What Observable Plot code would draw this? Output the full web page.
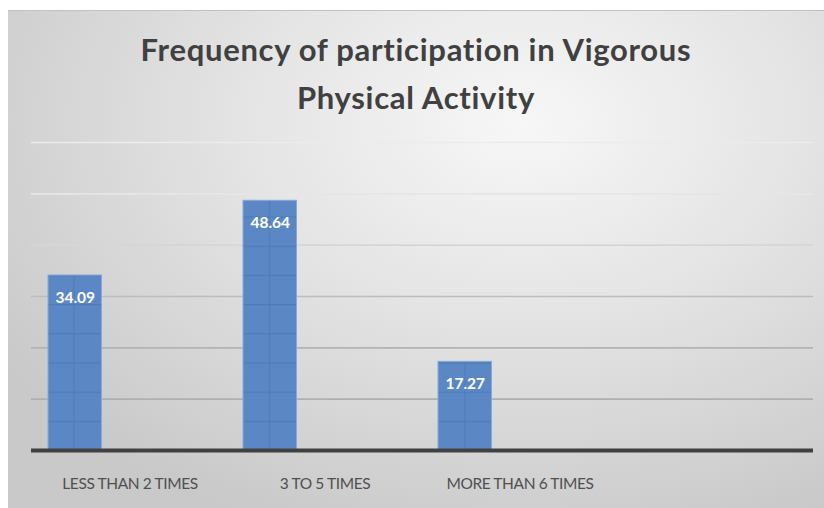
<!DOCTYPE html>
<html>
<head>
<meta charset="utf-8">
<script src="https://cdn.jsdelivr.net/npm/d3@7"></script>
<script src="https://cdn.jsdelivr.net/npm/@observablehq/plot@0.6"></script>
<style>
  html, body { margin: 0; padding: 0; background: #ffffff; width: 824px; height: 508px; overflow: hidden; }
  #frame {
    position: absolute; left: 8px; top: 10px; width: 830px; height: 510px;
    background: radial-gradient(ellipse 75% 85% at 62% 22%, #f7f7f7 0%, #e4e4e4 45%, #c9c9c9 100%);
    border-top: 1px solid #c2c2c2;
    box-sizing: border-box;
  }
  #title {
    position: absolute; left: 0; top: 14px; width: 816px; text-align: center;
    font-family: Lato, "Open Sans", sans-serif; font-weight: 700; font-size: 31px;
    line-height: 48px; color: #404040; letter-spacing: 0.7px;
  }
  #chart { position: absolute; left: 0; top: -1px; }
</style>
</head>
<body>
<div id="frame">
  <div id="chart"></div>
  <div id="title">Frequency of participation in Vigorous<br>Physical Activity</div>
</div>
<script>
const categories = ["LESS THAN 2 TIMES", "3 TO 5 TIMES", "MORE THAN 6 TIMES", ""];
const values = [34.09, 48.64, 17.27];
const yTicks = [10, 20, 30, 40, 50, 60];

const data = values.map((v, i) => ({category: categories[i], value: v}));

const gridColor = d => ({60: "#ececec", 50: "#e6e6e6", 40: "#d6d6d6", 30: "#bdbdbd", 20: "#b3b3b3", 10: "#afafaf"})[d];

const chart = Plot.plot({
  width: 816,
  height: 498,
  marginLeft: 23,
  marginRight: 11,
  marginTop: 132,
  marginBottom: 58,
  style: {background: "transparent", fontFamily: "Lato, 'Open Sans', sans-serif"},
  x: {domain: categories, padding: 0, label: null},
  y: {domain: [0, 60], label: null},
  marks: [
    Plot.ruleY(yTicks, {stroke: gridColor, strokeWidth: 1.6}),
    Plot.barY(data, {x: "category", y: "value", fill: "#5b88c5", stroke: "#86a9d8", strokeWidth: 1, insetLeft: 16, insetRight: 125.5}),
    Plot.ruleY([0], {stroke: "#404040", strokeWidth: 4}),
    Plot.text(data, {x: "category", y: "value", text: d => d.value.toFixed(2), dx: -54.75, dy: 16.5, lineAnchor: "top", fill: "white", fontWeight: "bold", fontSize: 15.5}),
    Plot.axisX({tickSize: 0, tickPadding: 27, fontSize: 15.5, fill: "#505050", label: null}),
    Plot.axisY({ticks: [], tickSize: 0, label: null})
  ]
});

document.getElementById("chart").appendChild(chart);

// texture pattern for bars (Excel-style textured fill)
const svg = d3.select(chart);
const defs = svg.insert("defs", ":first-child");
const pat = defs.append("pattern")
  .attr("id", "tex").attr("patternUnits", "userSpaceOnUse")
  .attr("x", 23).attr("y", 440 - 29.2 * 12)
  .attr("width", 195.5).attr("height", 29.2);
pat.append("rect").attr("width", 195.5).attr("height", 29.2).attr("fill", "#5b88c5");
pat.append("line").attr("x1", 43).attr("x2", 43).attr("y1", 0).attr("y2", 29.2).attr("stroke", "#4e7cbb").attr("stroke-width", 1.2);
pat.append("line").attr("x1", 0).attr("x2", 195.5).attr("y1", 0.5).attr("y2", 0.5).attr("stroke", "#4e7cbb").attr("stroke-width", 1.2);
svg.selectAll("g[aria-label='bar'] rect").attr("fill", "url(#tex)");
svg.selectAll("g[aria-label='x-axis tick label'] text").style("letter-spacing", "-0.4px");
</script>
</body>
</html>
